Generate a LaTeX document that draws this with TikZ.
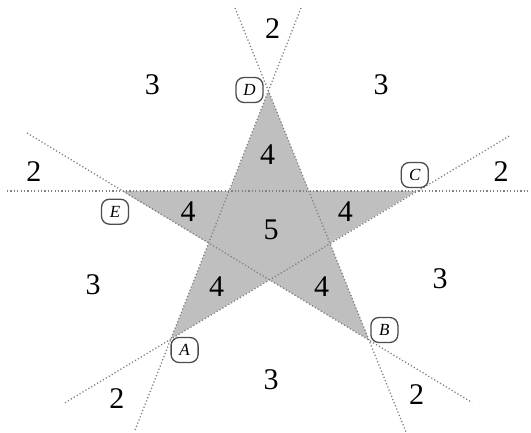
\documentclass[tikz,border=0pt]{standalone}
\usepackage{fontspec}
\setmainfont{Liberation Serif}
\begin{document}
\begin{tikzpicture}[x=1pt,y=-1pt,
  guide/.style={draw=black!50,line width=1.3pt,dash pattern=on 1.2pt off 2.2pt},
  starfill/.style={fill=black!25},
  num/.style={font=\fontsize{30}{32}\selectfont,inner sep=0pt},
  vlabel/.style={draw=black!70,line width=1.3pt,rounded corners=8pt,fill=white,
    minimum width=27pt,minimum height=25pt,inner sep=0pt,
    font=\fontsize{17}{19}\selectfont\itshape}]
\useasboundingbox (0,0) rectangle (531,432);
% star vertices
\coordinate (D) at (268.5,91);
\coordinate (C) at (416.5,191);
\coordinate (B) at (369,340);
\coordinate (A) at (171,339);
\coordinate (E) at (122,191);
% free ends of the guide lines
\coordinate (h1) at (7,191);
\coordinate (h2) at (531,191);
\coordinate (ad1) at (301,8);
\coordinate (ad2) at (134.3,432);
\coordinate (bd1) at (235,8);
\coordinate (bd2) at (406,432);
\coordinate (eb1) at (27,133);
\coordinate (eb2) at (472,402.5);
\coordinate (ac1) at (65,402.7);
\coordinate (ac2) at (511,135);
% star
\fill[starfill] (D) -- (B) -- (E) -- (C) -- (A) -- cycle;
% guide lines
\draw[guide] (h1) -- (h2);
\draw[guide] (ad1) -- (ad2);
\draw[guide] (bd1) -- (bd2);
\draw[guide] (eb1) -- (eb2);
\draw[guide] (ac1) -- (ac2);
% vertex labels
\node[vlabel] (lD) at (249.5,90) {D};
\node[vlabel] (lC) at (414.8,175) {C};
\node[vlabel] (lE) at (115,211.7) {E};
\node[vlabel] (lA) at (184.6,350) {A};
\node[vlabel] (lB) at (384.4,330) {B};
% region numbers
\node[num] (n1) at (272.6,28.3) {2};
\node[num] (n2) at (152.4,85) {3};
\node[num] (n3) at (381,85) {3};
\node[num] (n4) at (34,171.7) {2};
\node[num] (n5) at (501,171.7) {2};
\node[num] (n6) at (267.5,155) {4};
\node[num] (n7) at (188,211.7) {4};
\node[num] (n8) at (271,230) {5};
\node[num] (n9) at (345.4,211.7) {4};
\node[num] (n10) at (93,285) {3};
\node[num] (n11) at (440,278.3) {3};
\node[num] (n12) at (216.7,286.7) {4};
\node[num] (n13) at (321.7,286.7) {4};
\node[num] (n14) at (271,380) {3};
\node[num] (n15) at (116.8,398.3) {2};
\node[num] (n16) at (416.5,395) {2};
\end{tikzpicture}
\end{document}
